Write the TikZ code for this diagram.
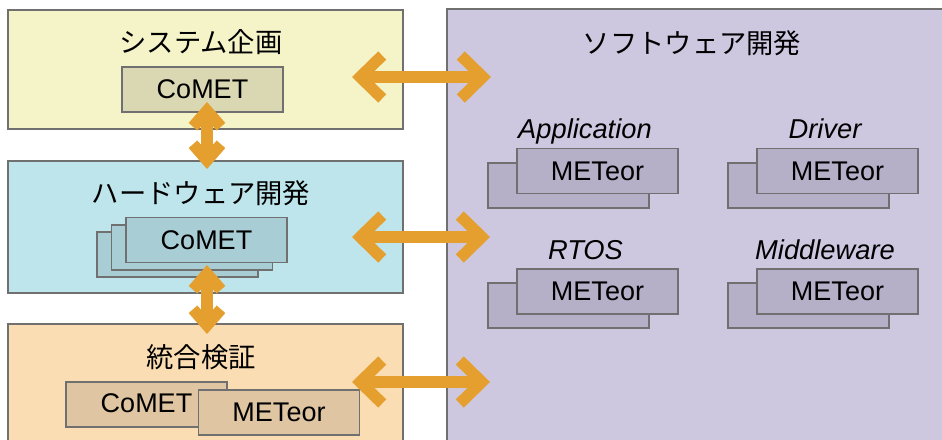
\documentclass[tikz,border=0pt]{standalone}
\usepackage{fontspec}
\setmainfont{Liberation Sans}
\newfontfamily\jpfont{Noto Sans CJK JP}
\usetikzlibrary{arrows.meta}
\definecolor{edgegray}{HTML}{707070}
\definecolor{planfill}{HTML}{F5F3C8}
\definecolor{planmod}{HTML}{D9D8B3}
\definecolor{hwfill}{HTML}{BDE5EB}
\definecolor{hwmod}{HTML}{A8CDD5}
\definecolor{itfill}{HTML}{FADDB3}
\definecolor{itmod}{HTML}{DFC5A1}
\definecolor{swfill}{HTML}{CDC8E0}
\definecolor{swmod}{HTML}{B5AFC8}
\definecolor{linkorange}{HTML}{E59F2E}
\begin{document}
\begin{tikzpicture}[x=1pt,y=-1pt,
  panel/.style={draw=edgegray, line width=1.3pt, inner sep=0pt},
  title/.style={font=\jpfont\fontsize{27.3}{32}\selectfont, inner sep=0pt},
  label/.style={font=\itshape\fontsize{27.3}{32}\selectfont, inner sep=0pt, anchor=base},
  module/.style={draw=edgegray, line width=1.3pt, minimum width=161pt, minimum height=45pt, inner sep=0pt, font=\fontsize{27}{32}\selectfont},
  hlink/.style={draw=linkorange, line width=11.5pt,
    {Straight Barb[length=22pt, width=43pt, line cap=butt, line join=miter]}-{Straight Barb[length=22pt, width=43pt, line cap=butt, line join=miter]}},
  vlink/.style={draw=linkorange, line width=11.5pt,
    {Straight Barb[length=16pt, width=28pt, line cap=butt, line join=miter]}-{Straight Barb[length=16pt, width=28pt, line cap=butt, line join=miter]}}
]
\useasboundingbox (0,0) rectangle (942,439);
\clip (0,0) rectangle (942,439);
\fill[white] (0,0) rectangle (942,439);

% panels
\node[panel, fill=planfill, minimum width=395pt, minimum height=119pt] (plan) at (205.5,69.5) {};
\node[panel, fill=hwfill, minimum width=395pt, minimum height=132pt] (hw) at (205.5,227) {};
\node[panel, fill=itfill, minimum width=395pt, minimum height=136pt] (it) at (205.5,392) {};
\node[panel, fill=swfill, minimum width=513pt, minimum height=451pt] (sw) at (703.5,234.5) {};

% titles
\node[title] (plantitle) at (201,42) {システム企画};
\node[title] (hwtitle) at (201,193) {ハードウェア開発};
\node[title] (ittitle) at (201,357) {統合検証};
\node[title] (swtitle) at (692,43) {ソフトウェア開発};

% system planning module
\node[module, fill=planmod] (plancomet) at (202.5,89.5) {CoMET};

% hardware stack
\node[module, fill=hwmod] (hwback) at (177.5,254.5) {};
\node[module, fill=hwmod] (hwmid) at (192,247.5) {};
\node[module, fill=hwmod] (hwcomet) at (206.5,240) {CoMET};

% integration modules
\node[module, fill=itmod] (itcomet) at (146.5,404.5) {\raisebox{2pt}{CoMET}};
\node[module, fill=itmod] (itmeteor) at (279,412.5) {METeor};

% software labels
\node[label] (applabel) at (585,138) {Application};
\node[label] (drvlabel) at (825,138) {Driver};
\node[label] (rtoslabel) at (585.5,259) {RTOS};
\node[label] (mwlabel) at (825,259) {Middleware};

% software stacks
\node[module, fill=swmod] (appback) at (568.5,185.5) {};
\node[module, fill=swmod] (appfront) at (597.5,171) {METeor};
\node[module, fill=swmod] (drvback) at (808.5,185.5) {};
\node[module, fill=swmod] (drvfront) at (837.5,171) {METeor};
\node[module, fill=swmod] (rtosback) at (568.5,305.5) {};
\node[module, fill=swmod] (rtosfront) at (597.5,291.5) {METeor};
\node[module, fill=swmod] (mwback) at (808.5,305.5) {};
\node[module, fill=swmod] (mwfront) at (837.5,291.5) {METeor};

% connector ends
\coordinate (h1a) at (352,77);
\coordinate (h1b) at (491,77);
\coordinate (h2a) at (352,237);
\coordinate (h2b) at (490,237);
\coordinate (h3a) at (352,382);
\coordinate (h3b) at (490,382);
\coordinate (v1a) at (207,102);
\coordinate (v1b) at (207,169);
\coordinate (v2a) at (207,265);
\coordinate (v2b) at (207,334);

\draw[hlink] (h1a) -- (h1b);
\draw[hlink] (h2a) -- (h2b);
\draw[hlink] (h3a) -- (h3b);
\draw[vlink] (v1a) -- (v1b);
\draw[vlink] (v2a) -- (v2b);
\end{tikzpicture}
\end{document}
